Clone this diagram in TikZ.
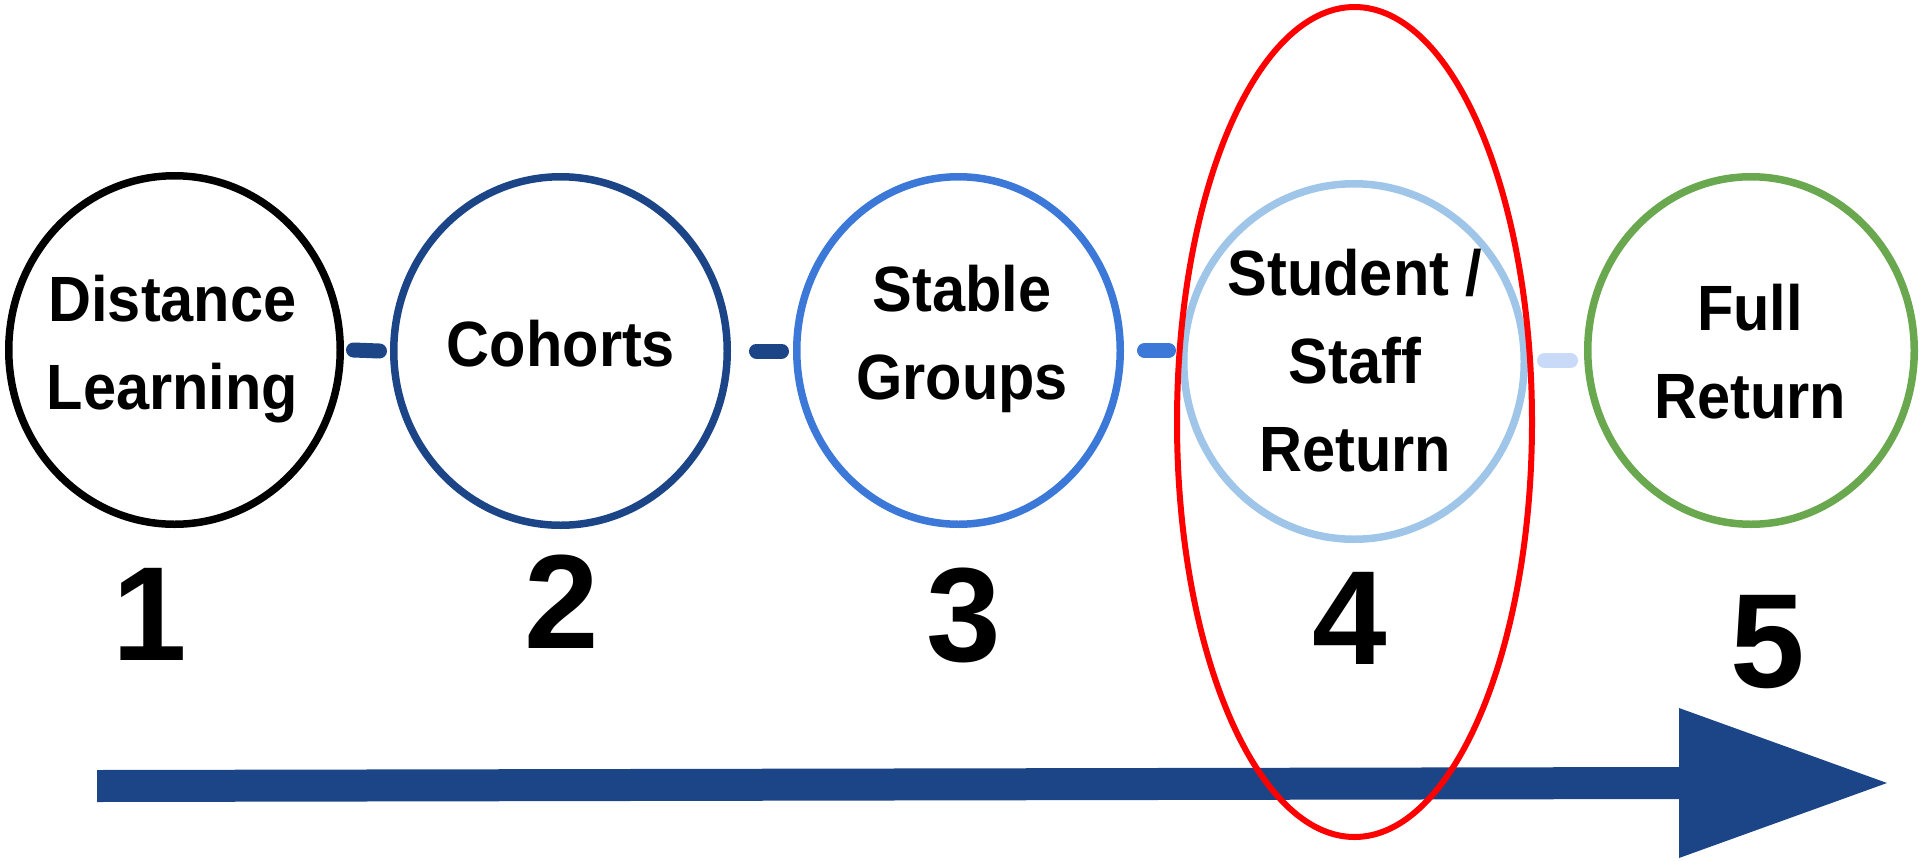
\documentclass[tikz,border=0pt]{standalone}
\usepackage{fontspec}
\setmainfont{Liberation Sans}
\newfontfamily\labfont{Liberation Sans}[FakeStretch=0.93]
\usetikzlibrary{shapes.geometric,calc}
\definecolor{navy}{HTML}{1C4587}
\definecolor{cblue}{HTML}{3C78D8}
\definecolor{lblue}{HTML}{9FC5E8}
\definecolor{pblue}{HTML}{C9DAF8}
\definecolor{cgreen}{HTML}{6AA84F}
\definecolor{cred}{HTML}{FF0000}
\begin{document}
\begin{tikzpicture}[x=1pt,y=-1pt,
  ring/.style={ellipse, draw, line width=7.5pt, inner sep=0pt},
  lab/.style={font=\labfont\bfseries\fontsize{64}{88}\selectfont, align=center, inner sep=0pt},
  num/.style={font=\bfseries\fontsize{134}{134}\selectfont, inner sep=0pt},
  bar/.style={line width=15pt, line cap=round}]
\useasboundingbox (0,0) rectangle (1920,860);
% arrow
\fill[navy] (97,770) -- (1679,767) -- (1679,708) -- (1887,783) -- (1679,858) -- (1679,799) -- (97,802) -- cycle;
% circles
\node[ring, draw=black, minimum width=331.5pt, minimum height=348.5pt] (c1) at (174.5,350) {};
\node[ring, draw=navy, minimum width=333.5pt, minimum height=348.5pt] (c2) at (560.5,351) {};
\node[ring, draw=cblue, minimum width=323.5pt, minimum height=347.5pt] (c3) at (958.5,350.5) {};
\node[ring, draw=lblue, minimum width=340.5pt, minimum height=355.5pt] (c4) at (1354,361.5) {};
\node[ring, draw=cgreen, minimum width=326.5pt, minimum height=347.5pt] (c5) at (1751,350.5) {};
% connectors
\draw[bar, navy] ($(c1.east)+(9.5,0)$) -- ($(c2.west)+(-10.5,0)$);
\draw[bar, navy] ($(c2.east)+(25.5,0)$) -- ($(c2.east -| c3.west)+(-11.5,0)$);
\draw[bar, cblue] ($(c3.east)+(20.5,0)$) -- ($(c3.east -| c4.west)+(-11.5,0)$);
\draw[bar, pblue] ($(c4.east)+(16.5,-1)$) -- ($(c4.east -| c5.west)+(-13.5,-1)$);
% labels
\node[lab] (t1) at (172.5,348.7) {Distance\\Learning};
\node[lab] (t2) at (561,344) {Cohorts};
\node[lab] (t3) at (962,338.7) {Stable\\Groups};
\node[lab] (t4) at (1355,360.8) {Student /\\Staff\\Return};
\node[lab] (t5) at (1750,351.5) {Full\\Return};
% numbers
\node[num] (n1) at (150,614.7) {1};
\node[num] (n2) at (562,601.5) {2};
\node[num] (n3) at (964,615) {3};
\node[num] (n4) at (1349.5,618.5) {4};
\node[num] (n5) at (1768,642) {5};
% highlight
\node[ellipse, draw=cred, line width=6pt, inner sep=0pt, minimum width=355pt, minimum height=830pt] (hl) at (1354.5,422) {};
\end{tikzpicture}
\end{document}
